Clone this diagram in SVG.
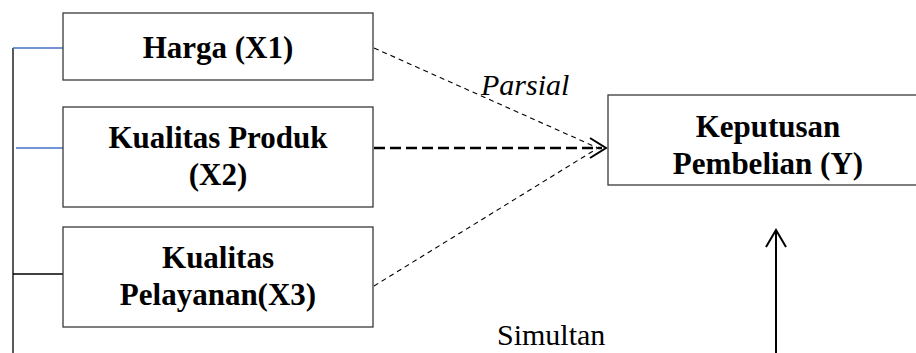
<svg xmlns="http://www.w3.org/2000/svg" width="916" height="353" viewBox="0 0 916 353">
  <defs>
    <style>
      .box { fill: #ffffff; stroke: #3a3a3a; stroke-width: 1.3; }
      .lbl { font-family: "Liberation Serif", "Times New Roman", serif; font-size: 31px; font-weight: bold; fill: #000; text-anchor: middle; }
      .plain { font-family: "Liberation Serif", "Times New Roman", serif; font-size: 30px; fill: #000; }
      .thin { stroke: #000; stroke-width: 1.1; stroke-dasharray: 5 4; fill: none; }
      .bold { stroke: #000; stroke-width: 2.5; stroke-dasharray: 11 5; fill: none; }
      .solid { stroke: #000; stroke-width: 2; fill: none; }
      .blue { stroke: #4472c4; stroke-width: 1.3; fill: none; }
      .blk { stroke: #000; stroke-width: 1.3; fill: none; }
    </style>
  </defs>
  <rect width="916" height="353" fill="#ffffff"/>

  <g id="connectors">
    <line class="blk" x1="13" y1="48" x2="13" y2="353"/>
    <line class="blue" x1="13" y1="48" x2="63" y2="48"/>
    <line class="blue" x1="16" y1="148" x2="63" y2="148"/>
    <line class="blk" x1="13" y1="274" x2="63" y2="274"/>
    <line class="thin" x1="374" y1="48" x2="598" y2="148"/>
    <line class="bold" x1="374" y1="148" x2="602" y2="148"/>
    <line class="thin" x1="374" y1="286" x2="598" y2="148"/>
    <polyline class="solid" stroke-width="2.6" points="590,138 606,148 590,158"/>
    <line class="solid" x1="776" y1="353" x2="776" y2="230"/>
    <polyline class="solid" points="766,247 776,230 786,247"/>
  </g>

  <g id="x1">
    <rect class="box" x="63" y="13" width="310" height="67"/>
    <text class="lbl" x="218" y="58">Harga (X1)</text>
  </g>
  <g id="x2">
    <rect class="box" x="63" y="107" width="310" height="100"/>
    <text class="lbl" x="218" y="148">Kualitas Produk</text>
    <text class="lbl" x="218" y="185">(X2)</text>
  </g>
  <g id="x3">
    <rect class="box" x="63" y="227" width="310" height="100"/>
    <text class="lbl" x="218" y="268">Kualitas</text>
    <text class="lbl" x="218" y="305">Pelayanan(X3)</text>
  </g>
  <g id="y">
    <rect class="box" x="608" y="95" width="320" height="90"/>
    <text class="lbl" x="768" y="137">Keputusan</text>
    <text class="lbl" x="768" y="174">Pembelian (Y)</text>
  </g>

  <g id="labels">
    <text class="plain" x="481" y="95" font-style="italic">Parsial</text>
    <text class="plain" x="497" y="345">Simultan</text>
  </g>
</svg>
